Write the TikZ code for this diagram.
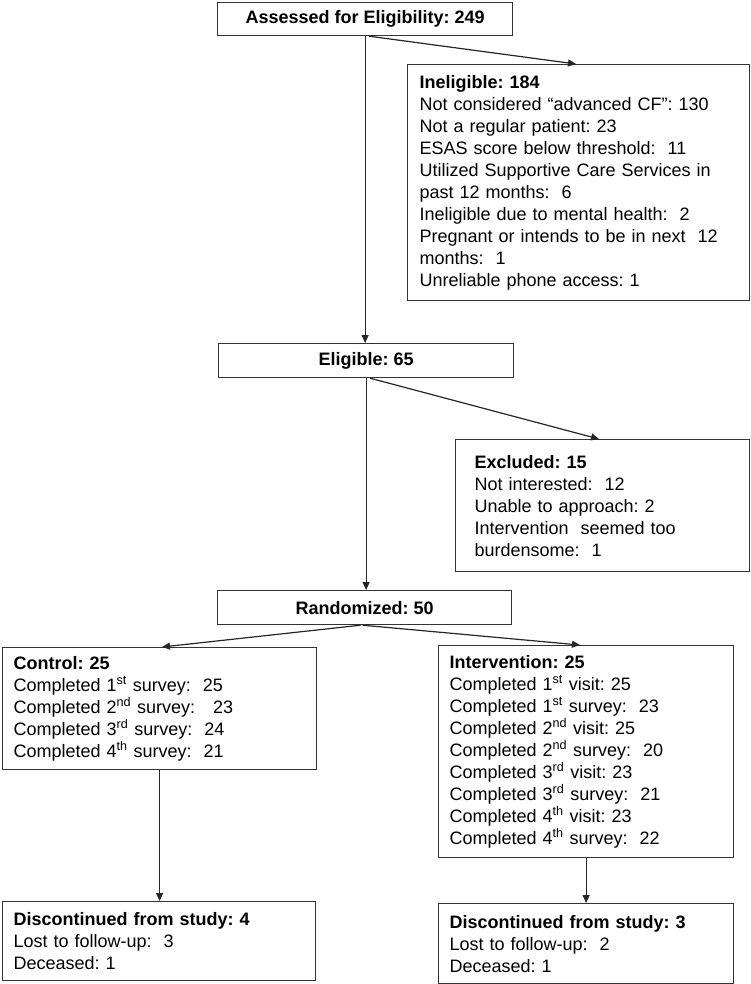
\documentclass[tikz,border=0pt]{standalone}
\usepackage{fontspec}
\setmainfont{Liberation Sans}
\usetikzlibrary{arrows.meta}
\newcommand{\sups}[1]{\textsuperscript{#1}}
\frenchspacing
\begin{document}
\begin{tikzpicture}[x=1pt,y=-1pt,
  box/.style={draw=black!80, line width=1.2pt, anchor=north west, inner sep=0pt,
    font=\fontsize{18}{22}\selectfont\frenchspacing, text=black},
  titlebox/.style={box, align=center, font=\fontsize{18}{22}\selectfont\bfseries\frenchspacing},
  listbox/.style={box, align=left},
  conn/.style={draw=black!85, line width=1.2pt, -{Triangle[length=8pt,width=7pt]}}
]
\useasboundingbox[fill=white] (0,0) rectangle (750,984);

\node[titlebox, minimum width=295pt, minimum height=33pt] (assess) at (217,2) {Assessed for Eligibility:\ 249};

\node[listbox, text width=318pt, inner xsep=12pt, minimum height=236pt] (inel) at (407,64) {%
\textbf{Ineligible: 184}\\
Not considered “advanced CF”: 130\\
Not a regular patient: 23\\
ESAS score below threshold:\ \ 11\\
Utilized Supportive Care Services in\\
past 12 months:\ \ 6\\
Ineligible due to mental health:\ \ 2\\
Pregnant or intends to be in next\ \ 12\\
months:\ \ 1\\
Unreliable phone access: 1};

\node[titlebox, minimum width=295pt, minimum height=34pt] (elig) at (218,343) {Eligible:\ 65};

\node[listbox, text width=256pt, inner xsep=19pt, minimum height=132pt] (excl) at (455,439) {%
\textbf{Excluded: 15}\\
Not interested:\ \ 12\\
Unable to approach: 2\\
Intervention\ \ seemed too\\
burdensome:\ \ 1};

\node[titlebox, minimum width=294pt, minimum height=34pt] (rand) at (217,590) {Randomized: 50};

\node[listbox, text width=292pt, inner xsep=11pt, minimum height=122pt] (ctrl) at (2,647) {%
\textbf{Control: 25}\\
Completed 1\sups{st} survey:\ \ 25\\
Completed 2\sups{nd} survey:\ \ \ 23\\
Completed 3\sups{rd} survey:\ \ 24\\
Completed 4\sups{th} survey:\ \ 21};

\node[listbox, text width=273pt, inner xsep=11pt, minimum height=212pt] (int) at (438,645) {%
\textbf{Intervention: 25}\\
Completed 1\sups{st} visit: 25\\
Completed 1\sups{st} survey:\ \ 23\\
Completed 2\sups{nd} visit: 25\\
Completed 2\sups{nd} survey:\ \ 20\\
Completed 3\sups{rd} visit: 23\\
Completed 3\sups{rd} survey:\ \ 21\\
Completed 4\sups{th} visit: 23\\
Completed 4\sups{th} survey:\ \ 22};

\node[listbox, text width=291pt, inner xsep=11pt, minimum height=79pt] (disc1) at (2,901) {%
\textbf{Discontinued from study: 4}\\
Lost to follow-up:\ \ 3\\
Deceased: 1};

\node[listbox, text width=273pt, inner xsep=11pt, minimum height=80pt] (disc2) at (438,903) {%
\textbf{Discontinued from study: 3}\\
Lost to follow-up:\ \ 2\\
Deceased: 1};

% connectors
\draw[conn] (assess.south) -- (assess.south |- elig.north);
\draw[conn] ([xshift=4pt]assess.south) -- ([xshift=169pt]inel.north west);
\draw[conn] (elig.south) -- (elig.south |- rand.north);
\draw[conn] ([xshift=4pt]elig.south) -- ([xshift=144pt]excl.north west);
\draw[conn] ([xshift=-4pt]rand.south) -- ([xshift=160pt]ctrl.north west);
\draw[conn] ([xshift=-2pt]rand.south) -- ([xshift=142pt]int.north west);
\draw[conn] (ctrl.south) -- (ctrl.south |- disc1.north);
\draw[conn] (int.south) -- (int.south |- disc2.north);
\end{tikzpicture}
\end{document}
